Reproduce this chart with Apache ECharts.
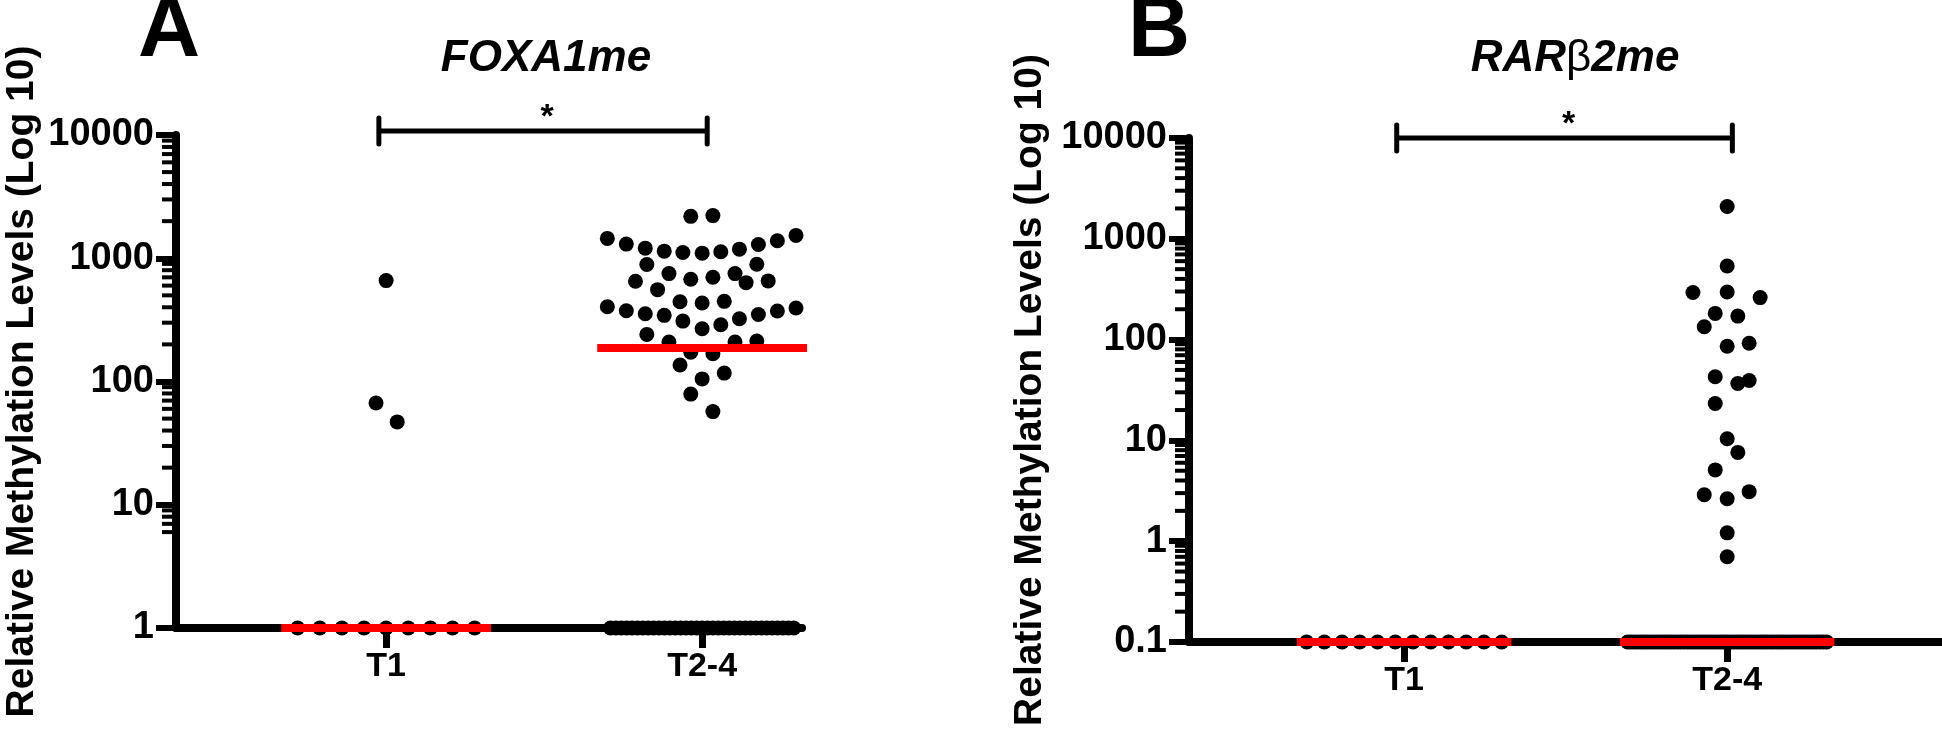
<!DOCTYPE html>
<html><head><meta charset="utf-8">
<script src="https://cdn.jsdelivr.net/npm/echarts@6/dist/echarts.min.js"></script>
<style>html,body{margin:0;padding:0;background:#fff}#c{width:1942px;height:736px}</style>
</head><body><div id="c"></div><script>
// ---------------- data ----------------
const categories = ['T1', 'T2-4'];
const yTitle = 'Relative Methylation Levels (Log 10)';
const panelLetters = ['A', 'B'];
const geneNames = ['FOXA1me', 'RARβ2me'];
const yRangeA = [1, 10000];
const yRangeB = [0.1, 10000];
const minorMultiples = [2, 3, 4, 5, 6, 7, 8, 9];

// FOXA1me, 0 = undetected (drawn on the axis floor)
const foxaT1 = [659, 67, 47, 0, 0, 0, 0, 0, 0, 0, 0, 0];
const foxaT1Jitter = [0, -0.032, 0.035];
const foxaT24 = [2188, 2218, 1449, 1302, 1208, 1142, 1114, 1100, 1128, 1185, 1294, 1387, 1532,
  889, 895, 751, 751, 650, 676, 701, 634, 655, 556, 444, 434, 447,
  404, 375, 355, 344, 309, 268, 289, 323, 350, 373, 395, 241, 209, 209, 213,
  173, 168, 136, 105, 117, 79, 57,
  0, 0, 0, 0, 0, 0, 0, 0, 0, 0, 0, 0, 0, 0, 0, 0, 0, 0, 0, 0, 0, 0, 0, 0, 0, 0, 0, 0, 0, 0, 0, 0, 0, 0, 0];
const foxaT24Jitter = [-0.036, 0.034, -0.30, -0.24, -0.18, -0.12, -0.061, 0, 0.059, 0.118, 0.178, 0.238, 0.297,
  -0.175, 0.173, -0.105, 0.104, -0.211, -0.036, 0.034, 0.139, 0.209, -0.141, -0.070, 0, 0.070,
  -0.30, -0.24, -0.18, -0.12, -0.061, 0, 0.059, 0.118, 0.178, 0.238, 0.297, -0.175, -0.105, 0.104, 0.173,
  -0.036, 0.034, -0.070, 0, 0.070, -0.036, 0.034];
const foxaMedians = [0, 187];
const foxaSignificance = [[0, 1, '*']];

// RARβ2me
const rarT1 = [0, 0, 0, 0, 0, 0, 0, 0, 0, 0, 0, 0];
const rarT1Jitter = [];
const rarT24 = [2094, 538, 293, 297, 261, 182, 171, 134, 86, 92, 42.8, 36.7, 39.3, 23.2,
  10.4, 7.6, 5.1, 2.89, 2.64, 3.10, 1.21, 0.70,
  0, 0, 0, 0, 0, 0, 0, 0, 0, 0, 0, 0, 0, 0, 0, 0, 0, 0, 0, 0, 0, 0, 0, 0, 0, 0, 0, 0, 0, 0,
  0, 0, 0, 0, 0, 0, 0, 0, 0, 0, 0, 0, 0, 0, 0, 0, 0, 0, 0, 0, 0, 0, 0, 0, 0, 0, 0, 0, 0, 0, 0];
const rarT24Jitter = [0, 0, -0.106, 0, 0.102, -0.037, 0.033, -0.071, 0, 0.068, -0.037, 0.033, 0.068, -0.037,
  0, 0.033, -0.037, -0.071, 0, 0.068, 0, 0];
const rarMedians = [0, 0];
const rarSignificance = [[0, 1, '*']];

// ---------------- build ----------------
const FONT = "'Liberation Sans', Arial, Helvetica, sans-serif";

function points(values, jitter, cat, floor, spread) {
  const nz = values.filter(v => v === 0).length;
  let j = 0, z = 0;
  return values.map(v => {
    if (v > 0) return [cat + jitter[j++], v];
    const off = nz > 1 ? -spread + 2 * spread * z / (nz - 1) : 0;
    z++;
    return [cat + off, floor];
  });
}

function minorTickValues(range) {
  const out = [];
  for (let d = range[0]; d < range[1] * 0.999; d *= 10)
    minorMultiples.forEach(k => out.push(+(d * k).toPrecision(6)));
  return out;
}

function scatter(gi, data) {
  return { type: 'scatter', xAxisIndex: gi, yAxisIndex: gi, data: data, symbolSize: 15,
    itemStyle: { color: '#000', opacity: 1 }, clip: false, z: 3, silent: true, animation: false };
}

function medianSeries(gi, medians, floor) {
  return { type: 'custom', xAxisIndex: gi, yAxisIndex: gi, z: 10, animation: false,
    data: medians.map((m, i) => [i, m > 0 ? m : floor]),
    renderItem: (p, api) => {
      const a = api.coord([api.value(0) - 0.332, api.value(1)]);
      const b = api.coord([api.value(0) + 0.332, api.value(1)]);
      return { type: 'line', shape: { x1: a[0], y1: a[1], x2: b[0], y2: b[1] },
        style: { stroke: '#ff0000', lineWidth: 8 } };
    } };
}

function sigSeries(gi, pairs, top, lift) {
  return { type: 'custom', xAxisIndex: gi, yAxisIndex: gi, z: 10, animation: false,
    data: pairs.map(p => [p[0], p[1], top, p[2]]),
    renderItem: (p, api) => {
      const l = api.coord([api.value(0) - 0.023, api.value(2)]);
      const r = api.coord([api.value(1) + 0.016, api.value(2)]);
      const y = l[1] - lift;
      const s = { stroke: '#000', lineWidth: 5 };
      return { type: 'group', children: [
        { type: 'line', shape: { x1: l[0], y1: y, x2: r[0], y2: y }, style: s },
        { type: 'line', shape: { x1: l[0], y1: y - 13, x2: l[0], y2: y + 13 }, style: Object.assign({ lineCap: 'round' }, s) },
        { type: 'line', shape: { x1: r[0], y1: y - 13, x2: r[0], y2: y + 13 }, style: Object.assign({ lineCap: 'round' }, s) },
        { type: 'text', x: (l[0] + r[0]) / 2 + 4, y: y - 13,
          style: { text: api.value(3), font: 'bold 34px ' + FONT, fill: '#000', align: 'center', verticalAlign: 'middle' } }
      ] };
    } };
}

function xAxis(gi, min, max) {
  return { type: 'value', gridIndex: gi, min: min, max: max, position: 'bottom',
    axisLine: { show: true, onZero: false, lineStyle: { color: '#000', width: 8 } },
    axisTick: { show: true, customValues: [0, 1], length: 20, lineStyle: { color: '#000', width: 7 } },
    axisLabel: { show: true, customValues: [0, 1], formatter: v => categories[Math.round(v)],
      fontFamily: FONT, fontWeight: 'bold', fontSize: 34, color: '#000', margin: 22 },
    splitLine: { show: false } };
}

function yAxis(gi, range, gap) {
  return { type: 'log', gridIndex: gi, logBase: 10, min: range[0], max: range[1], position: 'left',
    axisLine: { show: true, onZero: false, lineStyle: { color: '#000', width: 8 } },
    axisTick: { show: true, length: 20, lineStyle: { color: '#000', width: 6 } },
    axisLabel: { show: true, fontFamily: FONT, fontWeight: 'bold', fontSize: 38, color: '#000', margin: 22,
      formatter: v => String(+(+v).toPrecision(6)) },
    splitLine: { show: false },
    name: yTitle, nameLocation: 'middle', nameRotate: 90, nameGap: gap,
    nameTextStyle: { fontFamily: FONT, fontWeight: 'bold', fontSize: 39, color: '#000' } };
}

// gene names: Latin letters italic, Greek letters upright
function richName(s) {
  return s.split(/([\u0370-\u03FF]+)/).filter(Boolean)
    .map(t => /[\u0370-\u03FF]/.test(t) ? '{u|' + t + '}' : '{i|' + t + '}').join('');
}
const nameRich = {
  i: { fontFamily: FONT, fontStyle: 'italic', fontWeight: 'bold', fontSize: 44, fill: '#000' },
  u: { fontFamily: FONT, fontStyle: 'normal', fontWeight: 'normal', fontSize: 44, fill: '#000' }
};

const xRangeA = [-0.665, 1.316];
const xRangeB = [-0.666, 1.665];

const chart = echarts.init(document.getElementById('c'), null, { renderer: 'canvas' });
chart.setOption({
  animation: false,
  backgroundColor: '#fff',
  grid: [
    { left: 176, top: 135, width: 626, height: 493 },
    { left: 1189, top: 138, width: 753, height: 504 }
  ],
  xAxis: [xAxis(0, xRangeA[0], xRangeA[1]), xAxis(1, xRangeB[0], xRangeB[1])],
  yAxis: [yAxis(0, yRangeA, 134), yAxis(1, yRangeB, 139)],
  graphic: [
    { type: 'text', x: 169, y: 32, style: { text: panelLetters[0], font: 'bold 86px ' + FONT, fill: '#2b2b2b', align: 'center', verticalAlign: 'middle' } },
    { type: 'text', x: 1159, y: 32, style: { text: panelLetters[1], font: 'bold 86px ' + FONT, fill: '#2b2b2b', align: 'center', verticalAlign: 'middle' } },
    { type: 'text', x: 546, y: 59, style: { text: richName(geneNames[0]), rich: nameRich, align: 'center', verticalAlign: 'middle' } },
    { type: 'text', x: 1575, y: 59, style: { text: richName(geneNames[1]), rich: nameRich, align: 'center', verticalAlign: 'middle' } }
  ],
  series: [
    scatter(0, points(foxaT1, foxaT1Jitter, 0, yRangeA[0], 0.28)),
    scatter(0, points(foxaT24, foxaT24Jitter, 1, yRangeA[0], 0.29)),
    medianSeries(0, foxaMedians, yRangeA[0]),
    sigSeries(0, foxaSignificance, yRangeA[1], 4),
    scatter(1, points(rarT1, rarT1Jitter, 0, yRangeB[0], 0.302)),
    scatter(1, points(rarT24, rarT24Jitter, 1, yRangeB[0], 0.308)),
    medianSeries(1, rarMedians, yRangeB[0]),
    sigSeries(1, rarSignificance, yRangeB[1], 0)
  ]
});

// log-axis minor ticks (2..9 of each decade), positioned through the axis scale
function addMinorTicks() {
  const els = [];
  [[0, yRangeA, xRangeA[0]], [1, yRangeB, xRangeB[0]]].forEach(([gi, range, xMin]) => {
    minorTickValues(range).forEach(v => {
      const c = chart.convertToPixel({ gridIndex: gi }, [xMin, v]);
      if (!c || isNaN(c[0]) || isNaN(c[1])) return;
      els.push({ type: 'rect', z: 100, shape: { x: c[0] - 14, y: c[1] - 2, width: 14, height: 4 },
        style: { fill: '#000' } });
    });
  });
  chart.setOption({ graphic: [{ id: 'minor', type: 'group', children: els }] });
}
addMinorTicks();
</script></body></html>
